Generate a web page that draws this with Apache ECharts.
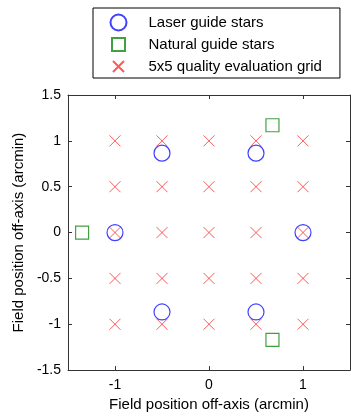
<!DOCTYPE html>
<html>
<head>
<meta charset="utf-8">
<script src="https://cdn.jsdelivr.net/npm/echarts@6/dist/echarts.min.js"></script>
<style>
  html, body { margin: 0; padding: 0; background: #fff; }
  #chart { width: 351px; height: 417px; }
</style>
</head>
<body>
<div id="chart"></div>
<script>
// Guide star asterism and evaluation grid, positions in arcmin
const laserX = [-1, 1, -0.5, 0.5, -0.5, 0.5];
const laserY = [0, 0, 0.866, 0.866, -0.866, -0.866];
const naturalX = [-1.35, 0.675, 0.675];
const naturalY = [0, 1.17, -1.17];
const gridSteps = [-1, -0.5, 0, 0.5, 1];
const xTicks = [-1, 0, 1];
const yTicks = [-1.5, -1, -0.5, 0, 0.5, 1, 1.5];
const seriesNames = ['Laser guide stars', 'Natural guide stars', '5x5 quality evaluation grid'];
const axisTitle = 'Field position off-axis (arcmin)';

const pairs = (xs, ys) => xs.map((x, i) => [x, ys[i]]);
const gridPoints = [];
gridSteps.forEach(y => gridSteps.forEach(x => gridPoints.push([x, y])));

const FONT = 'Liberation Sans, Arial, sans-serif';
const AXIS_COLOR = '#333';
const crossPath = 'path://M0,0L10,10M10,0L0,10';
const squarePath = 'path://M0,0H10V10H0Z';
// Legend glyphs: the extra move-to points pad each glyph inside its 16px cell
const legendSquare = 'path://M-1.5,-1.5M0,0H13V13H0ZM14.5,14.5';
const legendCross = 'path://M-2.5,-2.5M0,0L11,11M11,0L0,11M13.5,13.5';

const baseAxis = {
  min: -1.5, max: 1.5,
  splitLine: { show: false },
  axisLine: { show: true, onZero: false, lineStyle: { color: AXIS_COLOR, width: 1 } },
  axisTick: { show: true, inside: true, length: 4, lineStyle: { color: AXIS_COLOR } },
};

const chart = echarts.init(document.getElementById('chart'), null, { renderer: 'canvas' });
chart.setOption({
  animation: false,
  backgroundColor: '#fff',
  grid: { left: 68, right: 1, top: 95, bottom: 45, containLabel: false },
  legend: {
    orient: 'vertical',
    left: 93, top: 8,
    padding: [4, 18, 1, 15],
    borderColor: '#000', borderWidth: 1,
    itemWidth: 16, itemHeight: 16, itemGap: 1,
    textStyle: { fontFamily: FONT, fontSize: 15, lineHeight: 16, color: '#000', padding: [0, 0, 0, 17] },
    data: [
      { name: seriesNames[0], icon: 'circle' },
      { name: seriesNames[1], icon: legendSquare },
      { name: seriesNames[2], icon: legendCross }
    ]
  },
  xAxis: [
    Object.assign({}, baseAxis, {
      type: 'value', position: 'bottom',
      name: axisTitle, nameLocation: 'middle', nameGap: 26,
      nameTextStyle: { fontFamily: FONT, fontSize: 15, color: '#000' },
      axisTick: Object.assign({}, baseAxis.axisTick, { customValues: xTicks }),
      axisLabel: { customValues: xTicks, margin: 8, fontFamily: FONT, fontSize: 14, color: '#000' }
    }),
    Object.assign({}, baseAxis, {
      type: 'value', position: 'top',
      axisTick: Object.assign({}, baseAxis.axisTick, { customValues: xTicks }),
      axisLabel: { show: false }
    })
  ],
  yAxis: [
    Object.assign({}, baseAxis, {
      type: 'value', position: 'left', interval: 0.5,
      name: axisTitle, nameLocation: 'middle', nameGap: 42,
      nameTextStyle: { fontFamily: FONT, fontSize: 15, color: '#000' },
      axisTick: Object.assign({}, baseAxis.axisTick, { customValues: yTicks }),
      axisLabel: { customValues: yTicks, margin: 7, fontFamily: FONT, fontSize: 14, color: '#000' }
    }),
    Object.assign({}, baseAxis, {
      type: 'value', position: 'right', interval: 0.5,
      axisTick: Object.assign({}, baseAxis.axisTick, { customValues: yTicks }),
      axisLabel: { show: false }
    })
  ],
  series: [
    {
      name: seriesNames[2], type: 'scatter', z: 2,
      symbol: crossPath, symbolSize: 11,
      itemStyle: { color: 'none', borderColor: '#ff3030', borderWidth: 1 },
      data: gridPoints
    },
    {
      name: seriesNames[0], type: 'scatter', z: 3,
      symbol: 'circle', symbolSize: 16,
      itemStyle: { color: 'none', borderColor: '#1010ff', borderWidth: 1.2 },
      data: pairs(laserX, laserY)
    },
    {
      name: seriesNames[1], type: 'scatter', z: 3,
      symbol: squarePath, symbolSize: 13,
      itemStyle: { color: 'none', borderColor: '#108a10', borderWidth: 1.2 },
      data: pairs(naturalX, naturalY)
    }
  ]
});
</script>
</body>
</html>
